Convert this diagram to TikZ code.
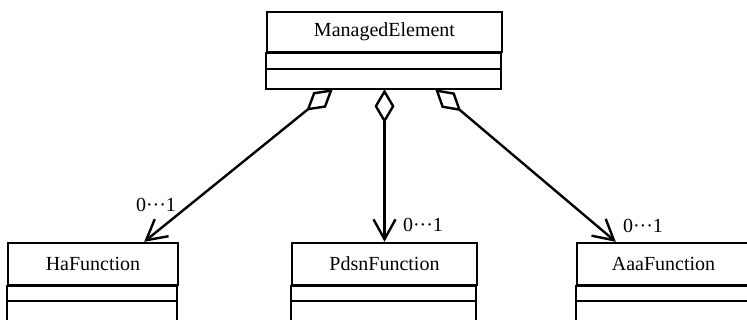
\documentclass[tikz,border=0pt]{standalone}
\usepackage{fontspec}
\setmainfont{Liberation Serif}
\usetikzlibrary{arrows.meta}

\tikzset{
    linea/.style={line width=2.4pt},
    clase/.style={draw, linea, inner sep=0pt, minimum width=#1},
    agregacion/.style={linea, {Diamond[open,length=34pt,width=20pt]}-{Straight Barb[length=20pt,width=22pt]}}
}

\begin{document}
\begin{tikzpicture}[x=1pt, y=-1pt, font=\fontsize{20}{24}\selectfont]
    \clip (0,0) rectangle (747,320);

    % Clase principal
    \node[clase=235pt, minimum height=40pt] (me) at (384.5,32) {ManagedElement};
    \draw[linea] (me.south west) rectangle ++(235,16);
    \draw[linea] (me.south west) ++(0,16) rectangle ++(235,20);

    % Clases inferiores
    \node[clase=170pt, minimum height=42pt] (ha) at (93,264) {HaFunction};
    \draw[linea] (ha.south west) rectangle ++(170,15);
    \draw[linea] (ha.south west) ++(0,15) rectangle ++(170,40);

    \node[clase=185pt, minimum height=42pt] (pdsn) at (384.5,264) {PdsnFunction};
    \draw[linea] (pdsn.south west) rectangle ++(185,15);
    \draw[linea] (pdsn.south west) ++(0,15) rectangle ++(185,40);

    \node[clase=173pt, minimum height=42pt] (aaa) at (663.5,264) {AaaFunction};
    \draw[linea] (aaa.south west) rectangle ++(173,15);
    \draw[linea] (aaa.south west) ++(0,15) rectangle ++(173,40);

    % Puntos de enlace
    \coordinate (meIzq) at ([xshift=67pt,yshift=-36pt]me.south west);
    \coordinate (meCen) at ([yshift=-36pt]me.south);
    \coordinate (meDer) at ([xshift=-68pt,yshift=-36pt]me.south east);
    \coordinate (haIn) at ([xshift=-35pt]ha.north east);
    \coordinate (aaaIn) at ([xshift=40pt]aaa.north west);

    % Agregaciones
    \draw[agregacion] (meIzq) -- (haIn);
    \draw[agregacion] (meCen) -- (pdsn.north);
    \draw[agregacion] (meDer) -- (aaaIn);

    % Multiplicidades
    \node (mHa) at (156,205) {0···1};
    \node (mPdsn) at (423,225) {0···1};
    \node (mAaa) at (643,226) {0···1};
\end{tikzpicture}
\end{document}
